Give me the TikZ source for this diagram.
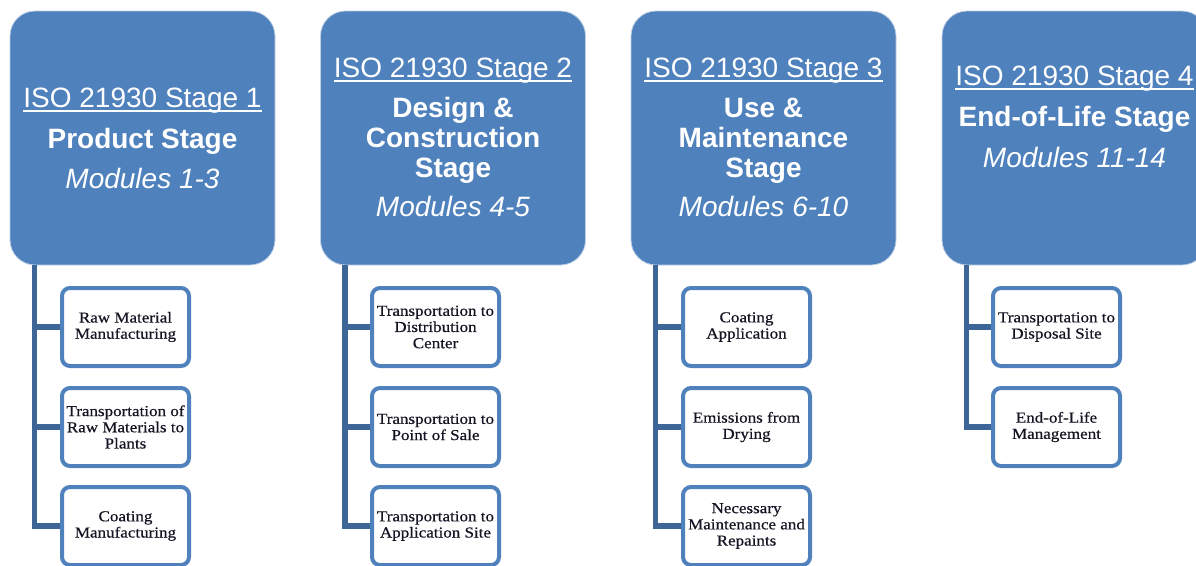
\documentclass[tikz,border=0pt]{standalone}
\usepackage{fontspec}
\setmainfont{Liberation Sans}
\newfontfamily\childfont[FakeStretch=1.12,FakeBold=0.5]{Liberation Serif}
\definecolor{boxblue}{RGB}{79,129,189}
\definecolor{stemblue}{RGB}{61,101,151}
\definecolor{edgeblue}{RGB}{190,208,230}
\definecolor{childtext}{RGB}{20,20,35}
\begin{document}
\begin{tikzpicture}[x=1pt,y=-1pt,
  stage/.style={draw=edgeblue,line width=0.8pt,fill=boxblue,rounded corners=25pt,
    minimum width=265pt,minimum height=254pt,inner sep=0pt},
  hline/.style={text=white,inner sep=0pt,anchor=base,font=\fontsize{28}{30}\selectfont},
  hbold/.style={hline,font=\fontsize{28}{30}\selectfont\bfseries},
  hital/.style={hline,font=\fontsize{28}{30}\selectfont\itshape},
  uline/.style={white,line width=1.5pt},
  child/.style={draw=boxblue,line width=4pt,fill=white,rounded corners=8pt,
    minimum width=127pt,minimum height=78pt,align=center,inner sep=0pt,
    text=childtext,font=\childfont\fontsize{15.2}{16.2}\selectfont},
  stem/.style={draw=stemblue,line width=5.5pt,line join=miter}]
\useasboundingbox (0,0) rectangle (1196,565);

% ---------- stage boxes ----------
\node[stage] (B1) at (142.5,138) {};
\node[stage] (B2) at (453,138) {};
\node[stage] (B3) at (763.5,138) {};
\node[stage] (B4) at (1074.5,138) {};

% ---------- stage 1 text ----------
\node[hline] (h1a) at (142.5,107) {ISO 21930 Stage 1};
\draw[uline] ([yshift=-4pt]h1a.base west) -- ([yshift=-4pt]h1a.base east);
\node[hbold] (h1b) at (142.5,148) {Product Stage};
\node[hital] (h1c) at (142.5,188) {Modules 1-3};

% ---------- stage 2 text ----------
\node[hline] (h2a) at (453,77) {ISO 21930 Stage 2};
\draw[uline] ([yshift=-4pt]h2a.base west) -- ([yshift=-4pt]h2a.base east);
\node[hbold] (h2b) at (453,117) {Design \&};
\node[hbold] (h2c) at (453,147) {Construction};
\node[hbold] (h2d) at (453,177) {Stage};
\node[hital] (h2e) at (453,216) {Modules 4-5};

% ---------- stage 3 text ----------
\node[hline] (h3a) at (763.5,77) {ISO 21930 Stage 3};
\draw[uline] ([yshift=-4pt]h3a.base west) -- ([yshift=-4pt]h3a.base east);
\node[hbold] (h3b) at (763.5,117) {Use \&};
\node[hbold] (h3c) at (763.5,147) {Maintenance};
\node[hbold] (h3d) at (763.5,177) {Stage};
\node[hital] (h3e) at (763.5,216) {Modules 6-10};

% ---------- stage 4 text ----------
\node[hline] (h4a) at (1074.5,85) {ISO 21930 Stage 4};
\draw[uline] ([yshift=-4pt]h4a.base west) -- ([yshift=-4pt]h4a.base east);
\node[hbold] (h4b) at (1074.5,126) {End-of-Life Stage};
\node[hital] (h4c) at (1074.5,167) {Modules 11-14};

% ---------- children ----------
\node[child] (c11) at (125.5,327) {Raw Material\\Manufacturing};
\node[child] (c12) at (125.5,427) {Transportation of\\Raw Materials to\\Plants};
\node[child] (c13) at (125.5,526) {Coating\\Manufacturing};

\node[child] (c21) at (435.5,327) {Transportation to\\Distribution\\Center};
\node[child] (c22) at (435.5,427) {Transportation to\\Point of Sale};
\node[child] (c23) at (435.5,526) {Transportation to\\Application Site};

\node[child] (c31) at (746.5,327) {Coating\\Application};
\node[child] (c32) at (746.5,427) {Emissions from\\Drying};
\node[child] (c33) at (746.5,526) {Necessary\\Maintenance and\\Repaints};

\node[child] (c41) at (1056.5,327) {Transportation to\\Disposal Site};
\node[child] (c42) at (1056.5,427) {End-of-Life\\Management};

% ---------- stems ----------
\coordinate (s1) at ([xshift=25pt]B1.south west);
\coordinate (s2) at ([xshift=25pt]B2.south west);
\coordinate (s3) at ([xshift=25pt]B3.south west);
\coordinate (s4) at ([xshift=25pt]B4.south west);

\draw[stem] (s1) |- (c13.west);
\draw[stem] (s1 |- c11.west) -- (c11.west);
\draw[stem] (s1 |- c12.west) -- (c12.west);

\draw[stem] (s2) |- (c23.west);
\draw[stem] (s2 |- c21.west) -- (c21.west);
\draw[stem] (s2 |- c22.west) -- (c22.west);

\draw[stem] (s3) |- (c33.west);
\draw[stem] (s3 |- c31.west) -- (c31.west);
\draw[stem] (s3 |- c32.west) -- (c32.west);

\draw[stem] (s4) |- (c42.west);
\draw[stem] (s4 |- c41.west) -- (c41.west);
\end{tikzpicture}
\end{document}
